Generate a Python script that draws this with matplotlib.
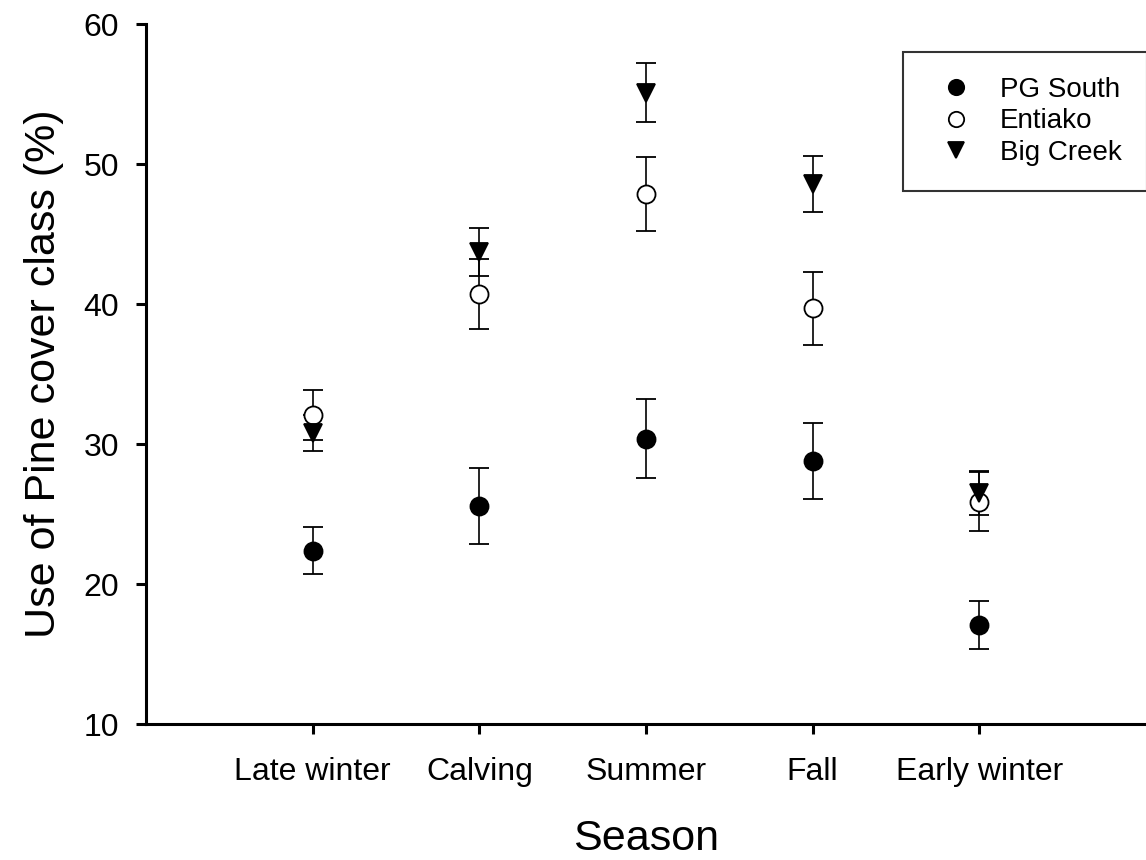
import numpy as np
import matplotlib.pyplot as plt

plt.rcParams['font.family'] = ['Liberation Sans', 'DejaVu Sans']

seasons = ['Late winter', 'Calving', 'Summer', 'Fall', 'Early winter']

pg_south = [22.4, 25.6, 30.4, 28.8, 17.1]
pg_south_se = [1.7, 2.7, 2.85, 2.7, 1.7]

entiako = [32.1, 40.7, 47.85, 39.7, 25.9]
entiako_se = [1.8, 2.5, 2.65, 2.6, 2.1]

big_creek = [30.8, 43.7, 55.1, 48.6, 26.5]
big_creek_se = [1.3, 1.7, 2.1, 2.0, 1.55]

x = np.arange(1, len(seasons) + 1)

fig = plt.figure(figsize=(11.46, 8.6), dpi=100)
ax = fig.add_axes([0.1274, 0.158, 0.8726, 0.814])

style = dict(ls='none', ecolor='black', elinewidth=1.2, capsize=7.5,
             capthick=1.2, markersize=13, markeredgewidth=1.3, markeredgecolor='black')

ax.errorbar(x, pg_south, yerr=pg_south_se, fmt='o', mfc='black', label='PG South', **style)
ax.errorbar(x, entiako, yerr=entiako_se, fmt='o', mfc='white', label='Entiako', **style)
ax.errorbar(x, big_creek, yerr=big_creek_se, fmt='v', mfc='black', label='Big Creek', **style)

ax.set_xlim(0, 6)
ax.set_ylim(10, 60)
ax.set_xticks(x)
ax.set_xticklabels(seasons)
ax.set_yticks([10, 20, 30, 40, 50, 60])

ax.spines['top'].set_visible(False)
ax.spines['right'].set_visible(False)
ax.spines['left'].set_linewidth(2.2)
ax.spines['bottom'].set_linewidth(2.2)
ax.tick_params(axis='both', direction='out', width=2.2, length=7, labelsize=23)
ax.tick_params(axis='x', pad=16.5)
ax.tick_params(axis='y', pad=12.5)

ax.set_xlabel('Season', fontsize=31, labelpad=23)
ax.set_ylabel('Use of Pine cover class (%)', fontsize=31, labelpad=14)

handles, labels = ax.get_legend_handles_labels()
handles = [h[0] for h in handles]
leg = ax.legend(handles, labels, loc='upper left', bbox_to_anchor=(0.757, 0.96),
                fontsize=20, frameon=True, fancybox=False, edgecolor='black',
                handletextpad=0.57, labelspacing=0.19, borderpad=0.9, borderaxespad=0,
                markerscale=0.85, handlelength=2.03)
leg.get_frame().set_linewidth(1.5)

fig.savefig('out.png', dpi=100)
